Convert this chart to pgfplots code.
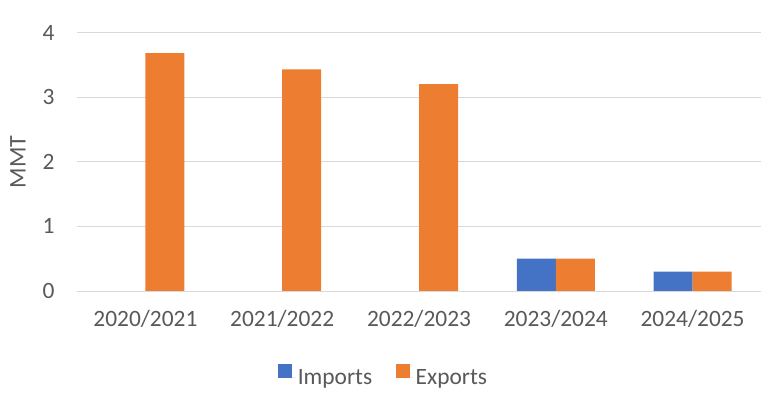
\documentclass[border=0pt]{standalone}
\usepackage{pgfplots}
\pgfplotsset{compat=1.18}
\usepackage{fontspec}
\setmainfont{Carlito}
\definecolor{impblue}{HTML}{4472C4}
\definecolor{exporange}{HTML}{ED7D31}
\definecolor{gridgray}{HTML}{D9D9D9}
\definecolor{txtgray}{HTML}{595959}
\begin{document}
\begin{tikzpicture}
\begin{axis}[
  scale only axis,
  width=684bp, height=258.5bp,
  ybar=0pt, bar width=39bp,
  xmin=-0.5, xmax=4.5,
  ymin=0, ymax=4,
  ytick={0,1,2,3,4},
  xtick={0,1,2,3,4},
  xticklabels={2020/2021,2021/2022,2022/2023,2023/2024,2024/2025},
  axis line style={draw=none},
  axis x line*=bottom,
  axis y line*=left,
  major tick length=0pt,
  ymajorgrids,
  grid style={gridgray, line width=1pt},
  /pgf/number format/assume math mode=true,
  tick label style={font=\fontsize{23.5}{26}\selectfont, text=txtgray},
  yticklabel style={xshift=-19bp},
  xticklabel style={yshift=-16bp},
  ylabel={MMT},
  every axis y label/.style={at={(axis description cs:-0.0863,0.5)}, rotate=90, anchor=center,
    font=\fontsize{24}{27}\selectfont, text=txtgray},
  legend style={at={(0.448,-0.329)}, anchor=center, draw=none,
    font=\fontsize{23.5}{26}\selectfont, text=txtgray,
    legend columns=2, /tikz/every even column/.append style={column sep=21.5bp}},
  legend image code/.code={\fill[#1] (0bp,-1bp) rectangle (14bp,13bp); \path (0bp,0bp) -- (18bp,0bp);},
]
\addplot[fill=impblue, draw=none] coordinates {(0,0) (1,0) (2,0) (3,0.5) (4,0.3)};
\addlegendentry{Imports}
\addplot[fill=exporange, draw=none] coordinates {(0,3.68) (1,3.43) (2,3.2) (3,0.5) (4,0.3)};
\addlegendentry{Exports}
\draw[gridgray, line width=1pt] (rel axis cs:0,0) -- (rel axis cs:1,0);
\end{axis}
\path (-77bp,-106bp) rectangle (699bp,291bp);
\end{tikzpicture}
\end{document}
